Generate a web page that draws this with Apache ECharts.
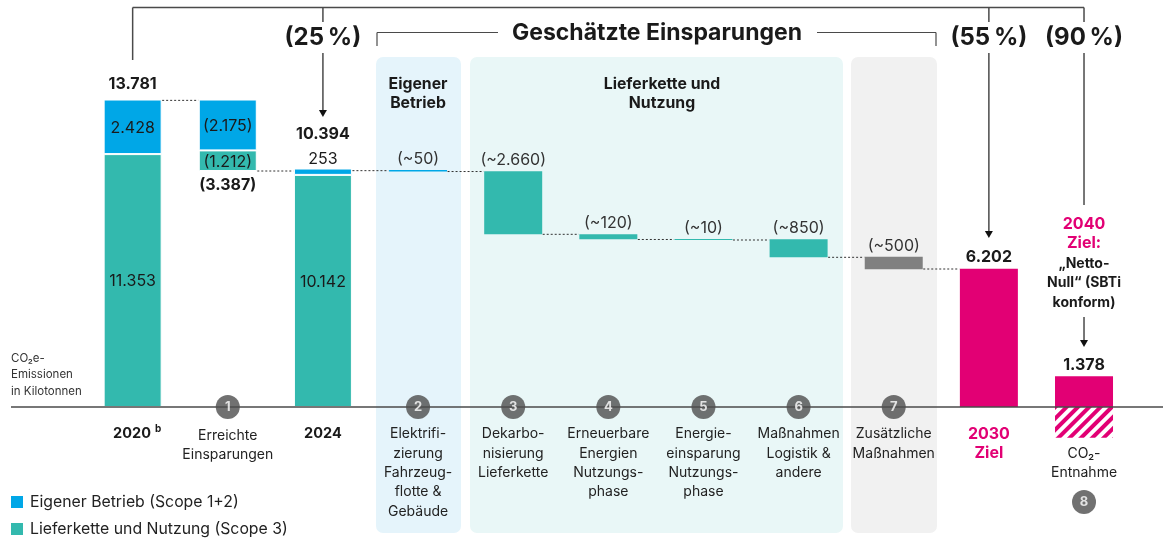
<!DOCTYPE html>
<html lang="de">
<head>
<meta charset="utf-8">
<title>CO2e-Emissionen</title>
<script src="https://cdn.jsdelivr.net/npm/echarts@6/dist/echarts.min.js"></script>
<style>
  html, body { margin: 0; padding: 0; background: #fff; }
  #chart { width: 1163px; height: 538px; }
</style>
</head>
<body>
<div id="chart"></div>
<script>
const categories = ['2020', 'Erreichte\nEinsparungen', '2024', 'Elektrifi-\nzierung\nFahrzeug-\nflotte &\nGebäude',
    'Dekarbo-\nnisierung\nLieferkette', 'Erneuerbare\nEnergien\nNutzungs-\nphase', 'Energie-\neinsparung\nNutzungs-\nphase',
    'Maßnahmen\nLogistik &\nandere', 'Zusätzliche\nMaßnahmen', '2030\nZiel', '\nCO₂-\nEntnahme'];

// bar heights are read off the picture, the artwork is not quite to scale with its printed labels
const baseValues = [0, 10594, 0, 10571, 7752, 7528, 7497, 6720, 6181, 0, 0];
const scope3Values = [11353, 925, 10420, 0, 2828, 224, 45, 808, 0, 0, 0];
const scope1Values = [2450, 2284, 285, 67, 0, 0, 0, 0, 0, 0, 0];
const extraValues = [0, 0, 0, 0, 0, 0, 0, 0, 565, 0, 0];
const targetValues = [0, 0, 0, 0, 0, 0, 0, 0, 0, 6202, 1378];
const removalValues = [0, 0, 0, 0, 0, 0, 0, 0, 0, 0, -1378];

const scope3Labels = ['11.353', '(1.212)', '10.142'];
const scope1Labels = ['2.428', '(2.175)'];
const stepLabels = ['(~50)', '(~2.660)', '(~120)', '(~10)', '(~850)', '(~500)'];
const connectorLevels = [13765, 10594, 10610, 10571, 7752, 7520, 7497, 6720, 6195];
const badges = [[1, 0], [3, 0], [4, 0], [5, 0], [6, 0], [7, 0], [8, 0], [10, -4265]];
const badgeLabels = ['1', '2', '3', '4', '5', '6', '7', '8'];

const FONT = 'Inter, "Noto Sans", sans-serif';
const INK = '#1a1a1a';
const BLUE = '#00a7e7';
const TEAL = '#33b9ae';
const PINK = '#e20074';
const GREY = '#808080';
const LINE = '#4a4a4a';

const chart = echarts.init(document.getElementById('chart'), null, {renderer: 'canvas'});

// the first three columns have a thin white seam between their two blocks
const seamed = (values, labels) => values.map((v, i) => ({
    value: v,
    itemStyle: i < 3 ? {borderColor: '#fff', borderWidth: 1} : undefined,
    label: labels && labels[i] ? {show: true, formatter: labels[i], offset: i === 2 ? [0, -9] : [0, 1]} : undefined
}));

const barSeries = (name, data, color, extra) => ({
    name, type: 'bar', stack: 'total', barWidth: 58, data,
    itemStyle: {color},
    label: {show: false, position: 'inside', color: INK, fontFamily: FONT, fontSize: 16},
    ...extra
});

const axisLabelRich = {
    plain: {fontFamily: FONT, fontSize: 14, color: '#222', lineHeight: 19.4},
    lowered: {fontFamily: FONT, fontSize: 14, color: '#222', lineHeight: 19.4, padding: [3, 0, 0, 0]},
    year: {fontFamily: FONT, fontSize: 14.5, fontWeight: 'bold', color: INK, lineHeight: 19.4},
    yearNote: {fontFamily: FONT, fontSize: 14.5, fontWeight: 'bold', color: INK, lineHeight: 19.4, padding: [0, 0, 0, 9]},
    sup: {fontFamily: FONT, fontSize: 10, fontWeight: 'bold', color: INK, padding: [0, 0, 11, 4], verticalAlign: 'top'},
    goal: {fontFamily: FONT, fontSize: 16, fontWeight: 'bold', color: PINK, lineHeight: 19.4}
};

chart.setOption({
    animation: false,
    grid: {left: 85.08, width: 1046.5, top: 6.02, height: 512.37, outerBoundsMode: 'none'},
    legend: {
        orient: 'vertical', left: 11, top: 494, height: 60, padding: 0, itemWidth: 12, itemHeight: 12, itemGap: 11, icon: 'rect',
        selectedMode: false,
        textStyle: {fontFamily: FONT, fontSize: 15.8, color: '#222', padding: [0, 0, 0, 2]},
        data: ['Eigener Betrieb (Scope 1+2)', 'Lieferkette und Nutzung (Scope 3)']
    },
    xAxis: {
        type: 'category', data: categories,
        axisLine: {show: false},
        axisTick: {show: false},
        axisLabel: {
            // labels stay at the grid bottom, so pull them back up to the zero line
            interval: 0, margin: -94, verticalAlign: 'top', lineHeight: 19.4, rich: axisLabelRich,
            formatter: (value, i) => {
                if (i === 0) return '{yearNote|2020}{sup|b}';
                if (i === 2) return '{year|2024}';
                const key = i === 9 ? 'goal' : i === 1 ? 'lowered' : 'plain';
                return value.split('\n').map(l => `{${key}|${l || ' '}}`).join('\n');
            }
        }
    },
    yAxis: {type: 'value', min: -5000, max: 18000, show: false},
    series: [
        barSeries('base', baseValues, 'transparent', {silent: true}),
        barSeries('Lieferkette und Nutzung (Scope 3)', seamed(scope3Values, scope3Labels), TEAL),
        barSeries('Eigener Betrieb (Scope 1+2)', seamed(scope1Values, scope1Labels), BLUE),
        barSeries('Zusätzliche Maßnahmen', extraValues, GREY),
        barSeries('Ziel', targetValues, PINK),
        barSeries('CO₂-Entnahme', removalValues, '#fff', {
            itemStyle: {
                color: '#fff',
                decal: {symbol: 'rect', color: PINK, dashArrayX: [1, 0], dashArrayY: [4, 4], symbolSize: 1, rotation: -Math.PI / 4}
            }
        }),
        {
            type: 'scatter', name: 'badges', data: badges, symbol: 'circle', symbolSize: 24, z: 30,
            itemStyle: {color: '#4d4d4d'},
            label: {
                show: true, position: 'inside', color: '#fff', fontFamily: FONT, fontSize: 13, fontWeight: 'bold',
                formatter: p => badgeLabels[p.dataIndex]
            }
        }
    ]
});

const cx = i => chart.convertToPixel({xAxisIndex: 0}, categories[i]);
const vy = v => chart.convertToPixel({yAxisIndex: 0}, v);

const text = (t, x, y, size, weight, color, align) => ({
    type: 'text', z: 20, x, y,
    style: {
        text: t, fontFamily: FONT, fontSize: size, fontWeight: weight || 'normal', fill: color || INK,
        align: align || 'center', verticalAlign: 'middle', lineHeight: 19.4
    }
});
const line = (x1, y1, x2, y2, extra) => ({
    type: 'line', z: 15, shape: {x1, y1, x2, y2},
    style: {stroke: LINE, lineWidth: 1.5, ...extra}
});
const arrowHead = (x, tipY) => ({
    type: 'polygon', z: 15,
    shape: {points: [[x - 4, tipY - 7], [x + 4, tipY - 7], [x, tipY]]},
    style: {fill: '#111'}
});
const panel = (x, width, fill) => ({
    type: 'rect', z: 0, shape: {x, y: 57, width, height: 476, r: 7}, style: {fill}
});

const bracketY = 7.5;
const graphics = [
    panel(376, 85, '#e5f4fb'),
    panel(470, 373, '#e9f7f7'),
    panel(851, 86, '#f1f1f1'),

    // axis runs wider than the grid
    line(11, vy(0), 1163, vy(0)),

    // top bracket and arrows
    line(cx(0), bracketY, cx(10), bracketY),
    line(cx(0), bracketY, cx(0), 60),
    line(cx(2), bracketY, cx(2), 22),
    line(cx(2), 53, cx(2), 112),
    arrowHead(cx(2), 117),
    line(cx(9), bracketY, cx(9), 22),
    line(cx(9), 53, cx(9), 233),
    arrowHead(cx(9), 238),
    line(cx(10), bracketY, cx(10), 22),
    line(cx(10), 53, cx(10), 205),
    line(cx(10), 317, cx(10), 342),
    arrowHead(cx(10), 347),

    // estimated savings bracket
    line(377, 32.5, 498, 32.5, {lineWidth: 1.2}),
    line(377, 32.5, 377, 46, {lineWidth: 1.2}),
    line(817, 32.5, 936, 32.5, {lineWidth: 1.2}),
    line(936, 32.5, 936, 46, {lineWidth: 1.2}),

    text('Geschätzte Einsparungen', 657, 33, 23, 'bold'),
    text('(25\u202f%)', cx(2), 38, 24, 'bold'),
    text('(55\u202f%)', cx(9), 38, 24, 'bold'),
    text('(90\u202f%)', cx(10), 38, 24, 'bold'),

    text('Eigener\nBetrieb', cx(3), 94, 15.8, 'bold'),
    text('Lieferkette und\nNutzung', 662, 94, 15.8, 'bold'),

    text('13.781', cx(0), 84, 16, 'bold'),
    text('(3.387)', cx(1), 185, 16, 'bold'),
    text('10.394', cx(2), 134, 16, 'bold'),
    text('253', cx(2), 159, 16),
    text('6.202', cx(9), 257, 16, 'bold'),
    text('1.378', cx(10), 365, 16, 'bold'),

    text('2040\nZiel:', cx(10), 233.5, 16, 'bold', PINK),
    text('„Netto-\nNull“ (SBTi\nkonform)', cx(10), 283, 14, 'bold'),

    {
        type: 'text', z: 20, x: 11, y: 375,
        style: {
            text: 'CO₂e-\nEmissionen\nin Kilotonnen', fontFamily: FONT, fontSize: 11.5, fill: '#333',
            align: 'left', verticalAlign: 'middle', lineHeight: 16.3
        }
    }
];

// step labels sit just above the bars
[3, 4, 5, 6, 7, 8].forEach((col, n) => {
    const top = baseValues[col] + scope3Values[col] + scope1Values[col] + extraValues[col];
    graphics.push(text(stepLabels[n], cx(col), vy(top) - 11, 16, 'normal', '#333'));
});

// dotted connectors between neighbouring columns
connectorLevels.forEach((level, i) => {
    graphics.push(line(cx(i) + 29.5, vy(level), cx(i + 1) - 29.5, vy(level), {
        stroke: '#333', lineWidth: 1, lineDash: [2, 2]
    }));
});

chart.setOption({graphic: graphics});
</script>
</body>
</html>
